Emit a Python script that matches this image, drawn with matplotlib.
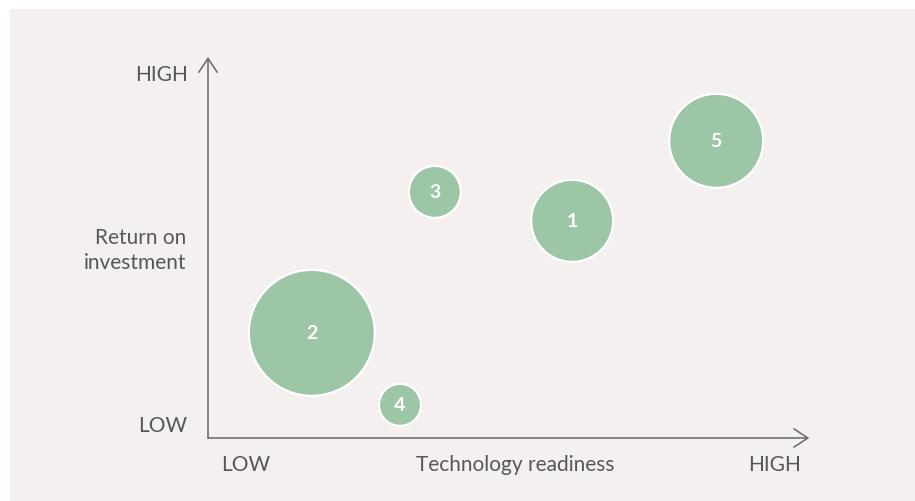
import numpy as np
import matplotlib
matplotlib.use('Agg')
from matplotlib import pyplot as plt
from matplotlib.patches import Rectangle

# 项目数据：技术成熟度 vs 投资回报
labels = ['1', '2', '3', '4', '5']
readiness = [6.07, 1.73, 3.78, 3.2, 8.47]
roi = [5.7, 2.76, 6.46, 0.87, 7.8]
size = [3486, 8230, 1402, 914, 4580]

bg = '#f4f0ef'
green = '#9dc6a7'
txt = '#575757'
line = '#666666'
fs = 15

plt.rcParams['font.family'] = ['Lato', 'DejaVu Sans']

fig = plt.figure(figsize=(9.15, 5.02), dpi=100)
fig.patch.set_facecolor('white')
fig.patches.append(Rectangle((10 / 915, 0), 1, 1 - 10 / 502, transform=fig.transFigure,
                             facecolor=bg, edgecolor='none', zorder=-1))

ax = fig.add_axes([208 / 915, 63 / 502, 600 / 915, 381 / 502])
ax.set_facecolor('none')
ax.set_xlim(0, 10)
ax.set_ylim(0, 10)
for s in ax.spines.values():
    s.set_visible(False)
ax.set_xticks([])
ax.set_yticks([])

# 坐标轴箭头
arrow = dict(arrowstyle='->,head_length=0.5,head_width=0.33', color=line, lw=1.1,
             mutation_scale=20, shrinkA=0, shrinkB=0)
ax.annotate('', xy=(1.002, 0), xytext=(0, 0), xycoords='axes fraction', arrowprops=arrow)
ax.annotate('', xy=(0, 1.0), xytext=(0, 0), xycoords='axes fraction', arrowprops=arrow)

ax.scatter(readiness, roi, s=size, color=green, edgecolor='white', linewidth=1.6,
           zorder=3, clip_on=False)
for x, y, l in zip(readiness, roi, labels):
    ax.text(x, y, l, color='white', fontsize=14, fontweight='bold', ha='center',
            va='center', zorder=4)

# 轴标签
ax.text(-0.034, 0.955, 'HIGH', transform=ax.transAxes, ha='right', va='center',
        fontsize=fs, color=txt)
ax.text(-0.034, 0.035, 'LOW', transform=ax.transAxes, ha='right', va='center',
        fontsize=fs, color=txt)
ax.text(-0.036, 0.495, 'Return on\ninvestment', transform=ax.transAxes, ha='right',
        va='center', fontsize=fs, color=txt, linespacing=1.33)
ax.text(38 / 600, -26 / 381, 'LOW', transform=ax.transAxes, ha='center', va='center',
        fontsize=fs, color=txt)
ax.text(307 / 600, -26 / 381, 'Technology readiness', transform=ax.transAxes,
        ha='center', va='center', fontsize=fs, color=txt)
ax.text(567 / 600, -26 / 381, 'HIGH', transform=ax.transAxes, ha='center', va='center',
        fontsize=fs, color=txt)

plt.savefig('out.png', dpi=100, facecolor=fig.get_facecolor())
